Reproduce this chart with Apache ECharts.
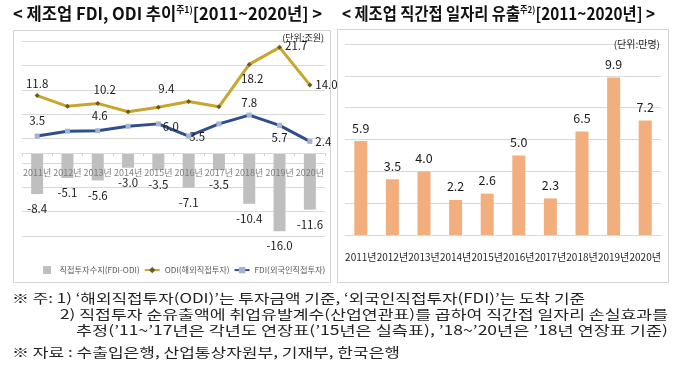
<!DOCTYPE html>
<html><head><meta charset="utf-8">
<script src="https://cdn.jsdelivr.net/npm/echarts@6/dist/echarts.min.js"></script>
<style>html,body{margin:0;padding:0;background:#fff}#c{width:680px;height:375px}</style>
</head><body><div id="c"></div>
<script>
// ---- data ----
const years = ['2011년','2012년','2013년','2014년','2015년','2016년','2017년','2018년','2019년','2020년'];
const netInvest = [-8.4, -5.1, -5.6, -3.0, -3.5, -7.1, -3.5, -10.4, -16.0, -11.6];
const odi = [11.8, 9.6, 10.2, 8.5, 9.4, 10.6, 9.5, 18.2, 21.7, 14.0];
const fdi = [3.5, 4.5, 4.6, 5.5, 6.0, 3.5, 6.0, 7.8, 5.7, 2.4];
const jobs = [5.9, 3.5, 4.0, 2.2, 2.6, 5.0, 2.3, 6.5, 9.9, 7.2];
const seriesNames = ['직접투자수지(FDI-ODI)', 'ODI(해외직접투자)', 'FDI(외국인직접투자)'];
const titleLeft = ['< 제조업 FDI, ODI 추이', '주1)', '[2011~2020년] >'];
const titleRight = ['< 제조업 직간접 일자리 유출', '주2)', '[2011~2020년] >'];
const unitLeft = '(단위:조원)';
const unitRight = '(단위:만명)';
const notes = [
  '※ 주: 1) ‘해외직접투자(ODI)’는 투자금액 기준, ‘외국인직접투자(FDI)’는 도착 기준',
  '2) 직접투자 순유출액에 취업유발계수(산업연관표)를 곱하여 직간접 일자리 손실효과를',
  '추정(’11~’17년은 각년도 연장표(’15년은 실측표), ’18~’20년은 ’18년 연장표 기준)',
  '※ 자료 : 수출입은행, 산업통상자원부, 기재부, 한국은행'
];

// ---- style helpers ----
const CJK = '"Noto Sans CJK KR", "Noto Sans", sans-serif';
const cv = document.createElement('canvas').getContext('2d');
function tw(text, font){ cv.font = font; return cv.measureText(text).width; }

// left grid layout and its value range
const LG = {left:22, right:355, top:41, height:195};
const L_MIN = -17, L_MAX = 23;
// move the category axis up to the zero line of the value axis
const zeroOffset = -LG.height * (0 - L_MIN) / (L_MAX - L_MIN);

// label placements (layout only)
const odiLab = {0:{position:'top',distance:4,offset:[0,0]},2:{position:'top',distance:4,offset:[7,-2]},4:{position:'top',distance:4,offset:[8,-6]},
  7:{position:'bottom',distance:4,offset:[3,2]},8:{position:'right',distance:3,offset:[0,-2]},9:{position:'right',distance:3,offset:[0,0]}};
const fdiLab = {0:{position:'top',distance:4,offset:[0,-3]},2:{position:'top',distance:4,offset:[2,-3]},4:{position:'right',distance:2,offset:[0,3]},
  5:{position:'right',distance:0,offset:[-2,1]},7:{position:'top',distance:4,offset:[0,0]},8:{position:'bottom',distance:4,offset:[0,0]},9:{position:'right',distance:3,offset:[0,0]}};
const labStyle = {color:'#1a1a1a', fontSize:11.5, fontFamily:CJK, formatter:p=>p.value.toFixed(1)};
function withLabels(arr, cfg){
  return arr.map((v,i)=> cfg[i] ? {value:v, label:Object.assign({show:true}, labStyle, cfg[i])} : {value:v, label:{show:false}});
}

function titleEl(parts, x0, x1, y){
  const fMain = 'bold 17px ' + CJK, fSup = 'bold 9px ' + CJK;
  const w = tw(parts[0], fMain) + tw(parts[1], fSup) + tw(parts[2], fMain);
  return {type:'text', x:x0, y:y, scaleX:(x1-x0)/w, z:10,
    style:{text:'{a|'+parts[0]+'}{s|'+parts[1]+'}{a|'+parts[2]+'}', textAlign:'left', align:'left', textVerticalAlign:'middle', verticalAlign:'middle',
      rich:{a:{fontSize:17, fontWeight:'bold', fontFamily:CJK, fill:'#111', color:'#111'},
            s:{fontSize:9, fontWeight:'bold', fontFamily:CJK, fill:'#111', color:'#111', verticalAlign:'top', padding:[0,0,8,0]}}}};
}
function noteEl(text, x0, x1, y){
  const f = '13px ' + CJK;
  return {type:'text', x:x0, y:y, scaleX:(x1-x0)/tw(text,f), z:10,
    style:{text:text, font:f, fill:'#222', textAlign:'left', align:'left', textVerticalAlign:'middle', verticalAlign:'middle'}};
}

const chart = echarts.init(document.getElementById('c'), null, {renderer:'canvas'});
const option = {
  animation:false,
  backgroundColor:'#fff',
  textStyle:{fontFamily:CJK},
  grid:[LG,{left:345, right:19, top:44, height:191}],
  legend:{left:38, top:261, itemGap:4, itemWidth:15, itemHeight:8, symbolKeepAspect:true,
    textStyle:{fontSize:8.2, color:'#595959', fontFamily:CJK},
    data:[{name:seriesNames[0], icon:'path://M0 0H10V10H0Z'}, seriesNames[1], seriesNames[2]]},
  xAxis:[
    {gridIndex:0, type:'category', data:years, z:5, position:'bottom', offset:zeroOffset,
     axisLine:{onZero:false, lineStyle:{color:'#D9D9D9'}}, axisTick:{show:true, length:3, lineStyle:{color:'#D0D0D0'}},
     axisLabel:{interval:0, color:'#7F7F7F', fontSize:9, margin:15, fontFamily:CJK}},
    {gridIndex:1, type:'category', data:years,
     axisLine:{lineStyle:{color:'#D9D9D9'}}, axisTick:{show:false},
     axisLabel:{interval:0, color:'#262626', fontSize:10, margin:17, fontFamily:CJK}}
  ],
  yAxis:[
    {gridIndex:0, type:'value', min:L_MIN, max:L_MAX, interval:5, axisLabel:{show:false}, axisLine:{show:false}, axisTick:{show:false},
     splitLine:{lineStyle:{color:'#D9D9D9'}}},
    {gridIndex:1, type:'value', min:0, max:12, interval:2, axisLabel:{show:false}, axisLine:{show:false}, axisTick:{show:false},
     splitLine:{lineStyle:{color:'#D9D9D9'}}}
  ],
  series:[
    {name:seriesNames[0], type:'bar', xAxisIndex:0, yAxisIndex:0, data:netInvest, barWidth:12,
     itemStyle:{color:'#BFBFBF'},
     label:Object.assign({show:true, position:'bottom', distance:9}, labStyle)},
    {name:seriesNames[1], type:'line', xAxisIndex:0, yAxisIndex:0, data:withLabels(odi, odiLab),
     symbol:'diamond', symbolSize:5, showAllSymbol:true, z:4,
     lineStyle:{color:'#C8A52B', width:3}, itemStyle:{color:'#6B5A1C'}},
    {name:seriesNames[2], type:'line', xAxisIndex:0, yAxisIndex:0, data:withLabels(fdi, fdiLab),
     symbol:'rect', symbolSize:5, showAllSymbol:true, z:4,
     lineStyle:{color:'#2F4E8A', width:3}, itemStyle:{color:'#A3B4D2'}},
    {name:'일자리 유출', type:'bar', xAxisIndex:1, yAxisIndex:1, data:jobs, barWidth:13,
     itemStyle:{color:'#F3AE7E'},
     label:{show:true, position:'top', distance:7, color:'#1a1a1a', fontSize:12.5, fontFamily:CJK, formatter:p=>p.value.toFixed(1)}}
  ],
  graphic:[
    {type:'rect', shape:{x:13.5, y:30.5, width:317, height:252}, style:{fill:'none', stroke:'#D4D4D4', lineWidth:1}, z:-1, silent:true},
    {type:'rect', shape:{x:337.5, y:29.5, width:331, height:253}, style:{fill:'none', stroke:'#D4D4D4', lineWidth:1}, z:-1, silent:true},
    titleEl(titleLeft, 13, 322, 14),
    titleEl(titleRight, 342, 655, 14),
    {type:'text', x:324, y:38, z:10, style:{text:unitLeft, font:'9px '+CJK, fill:'#262626', textAlign:'right', align:'right', textVerticalAlign:'middle', verticalAlign:'middle'}},
    {type:'text', x:660, y:44, z:10, style:{text:unitRight, font:'10px '+CJK, fill:'#262626', textAlign:'right', align:'right', textVerticalAlign:'middle', verticalAlign:'middle'}},
    noteEl(notes[0], 12, 585, 298),
    noteEl(notes[1], 60, 668, 314),
    noteEl(notes[2], 76, 668, 330),
    noteEl(notes[3], 12, 400, 352)
  ]
};
chart.setOption(option);
</script>
</body></html>
